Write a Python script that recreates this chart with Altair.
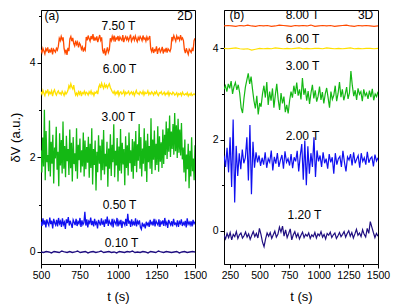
import altair as alt
import numpy as np
import pandas as pd

# ---------------- panel (a) 2D : values in units of 0.01 a.u. ----------------
a_750 = [428,422,431,425,419,430,426,433,421,427,424,432,418,429,426,423,431,427,435,
         452,447,456,449,454,
         430,421,428,417,432,425,
         451,456,446,453,
         441,436,447,439,444,433,442,438,
         429,434,424,431,427,
         455,448,458,451,446,457,450,461,447,453,449,456,444,452,459,448,454,
         427,420,431,416,425,433,422,428,
         452,447,456,449,458,445,453,450,457,446,455,451,448,459,444,452,456,449,454,447,453,
         460,446,451,455,448,457,450,445,454,449,456,452,447,458,450,453,446,455,449,452,457,
         430,424,433,421,428,426,435,419,429,431,423,427,434,420,428,425,432,422,430,427,424,431,
         455,449,458,452,446,457,451,454,448,459,450,453,447,
         428,421,431,424,418,429,426,422,430,425,
         447,452]
a_600 = [339,334,342,336,331,340,337,344,333,338,335,341,330,339,343,336,332,338,341,335,337,333,340,336,331,339,334,337,342,
         352,347,356,349,345,353,340,332,
         336,331,339,334,341,330,337,335,340,333,338,336,332,339,335,341,334,337,331,338,336,340,334,
         349,354,347,357,351,346,355,349,353,347,352,356,348,344,339,
         336,340,333,338,335,342,331,337,339,334,336,341,332,338,335,337,340,333,336,339,334,338,331,337,342,335,
         336,333,339,337,334,340,332,338,335,336,341,333,337,334,339,336,332,338,335,340,334,331,337,336,339,333,
         335,338,332,336,334,339,331,337,335,333,338,336,332,334,337,330,335,333,336,331,338,334,332,335,333,337,
         330,334,332,336,331,333,335,332]
a_300 = [215,168,242,181,301,152,256,190,205,171,278,160,233,187,248,145,221,198,265,174,212,139,251,183,237,166,
         276,176,224,158,246,192,218,163,259,177,231,149,243,186,209,171,262,155,227,194,240,168,215,181,253,160,236,175,222,
         189,244,157,229,178,262,143,218,184,236,130,212,169,247,187,225,152,238,173,258,164,208,181,233,138,219,176,249,
         161,227,190,270,158,214,183,241,149,223,172,260,166,231,185,218,141,245,178,226,162,253,188,215,170,239,155,
         234,182,256,169,228,193,271,176,243,160,219,187,262,171,236,148,250,190,224,176,283,165,238,195,257,173,229,184,
         266,170,245,191,232,178,259,186,
         248,205,276,197,262,212,289,201,255,218,271,206,294,213,268,199,282,210,259,204,273,196,
         221,168,238,149,206,175,229,135,214,160,243,171,198,152,226]
a_050 = [64,55,71,58,67,52,69,61,56,73,59,66,50,70,62,57,68,54,72,60,65,53,71,58,63,49,69,61,74,56,66,59,51,68,63,57,70,
         55,64,60,72,53,67,58,62,85,56,69,52,65,61,73,57,66,54,70,59,63,50,68,62,56,71,58,64,53,69,60,75,55,66,61,57,70,
         52,67,63,58,72,54,65,59,68,51,64,62,57,70,55,81,60,66,53,69,58,63,56,71,54,65,60,67,52,48,62,55,58,50,64,57,61,
         53,68,59,63,56,70,54,66,61,57,69,53,64,60,67,55,72,58,63,51,68,62,57,65,54,70,59,61,56,67,53,64,60,69,55,62,58,
         66,52,71,59,63,57,65,54,68,60,64]
a_010 = [0,-1,1,0,-2,1,0,-1,2,0,-1,1,-1,0,2,-1,0,1,-2,0,1,-1,0,2,-1,0,1,-1,0,-2,1,0,-1,1,0,2,-1,0,-1,1,0,-2,1,0,
         -1,2,0,-1,1,0,-1,0,1,-2,0,1,-1,0,1,0]

a_names = ["7.50 T", "6.00 T", "3.00 T", "0.50 T", "0.10 T"]
a_series = [a_750, a_600, a_300, a_050, a_010]
a_colors = ["#FF4A00", "#FFE000", "#14B814", "#1010F0", "#1F0E80"]
a_label_t = [1003, 1010, 1003, 1010, 1023]
a_label_v = [4.78, 3.87, 2.85, 1.00, 0.20]
a_tags = ["(a)", "2D"]
a_tag_t = [571, 1435]
a_tag_v = [4.99, 4.99]

# ---------------- panel (b) 3D ----------------
b_800 = [449,450,449,448,450,449,451,449,448,450,449,450,448,449,451,450,449,448,450,449,450,449,451,448,449,450,
         449,450,448,449,450,451,449,448,450,449,450,449,448,449]
b_600 = [400,399,400,401,399,398,399,396,398,400,399,400,399,401,400,399,400,399,400,401,399,400,399,400,400,399,
         401,400,399,400,399,400,401,399,400,399,400,400,399,400]
b_300 = [310,318,305,322,312,328,300,316,325,309,320,302,
         270,258,
         290,315,330,345,322,338,310,
         285,268,296,255,280,272,300,
         318,292,326,276,305,285,312,270,298,322,288,265,302,279,294,260,276,257,
         285,305,292,318,300,325,296,310,288,335,
         298,312,285,306,278,302,320,290,308,283,295,316,287,304,279,300,313,292,270,305,288,297,318,284,301,326,
         293,310,286,299,315,289,302,
         350,
         318,295,308,287,312,299,305,284,310,296,302,289,307,293,311,286,300,294,305]
b_200 = [165,140,182,128,205,96,244,62,186,120,170,135,178,148,160,205,110,232,80,195,138,172,150,165,142,
         160,145,172,138,158,150,176,132,162,147,170,140,155,166,136,174,150,158,143,168,137,161,152,175,130,164,
         190,112,198,100,185,125,170,140,205,118,176,
         152,165,140,172,148,158,136,168,150,161,125,170,145,158,163,140,175,150,130,162,155,168,143,172,148,157,
         165,138,170,152,160,145,173,149,158,162,141,167,153,160]
b_120 = [-10,-18,-6,-15,-4,-20,-8,-13,-2,-17,-9,-5,-16,-11,-3,-14,-7,-19,-10,-2,-13,-6,-16,
         5,-8,-25,-35,-18,-5,
         -12,-4,-17,-9,-1,-14,-8,
         8,-3,10,-12,2,-15,-6,4,-20,-9,-2,
         -14,-6,-18,-10,-3,-15,-8,-12,-5,-17,-9,-13,-4,-16,-7,-11,-2,-14,-8,-18,-6,-10,-3,-15,-9,-5,-17,-11,-4,-13,
         -8,-2,-14,-6,0,-12,-4,-16,-7,3,-10,-5,-13,
         2,-8,-14,5,-6,
         20,8,-4,-15,-6,-12]

b_names = ["8.00 T", "6.00 T", "3.00 T", "2.00 T", "1.20 T"]
b_series = [b_800, b_600, b_300, b_200, b_120]
b_colors = ["#FF4A00", "#FFE000", "#14B814", "#1010F0", "#1F0E80"]
b_label_t = [863, 863, 863, 863, 879]
b_label_v = [4.73, 4.20, 3.61, 2.07, 0.35]
b_tags = ["(b)", "3D"]
b_tag_t = [309, 1395]
b_tag_v = [4.73, 4.73]

FONT = "Liberation Sans"


def panel(key, series, names, colors, trange, xdom, ydom, xticks, xminor, yticks, yminor,
          lab_t, lab_v, tags, tag_t, tag_v, ytitle, sw):
    rows = []
    keys = [key + " " + nm for nm in names]
    for k, (nm, vals) in enumerate(zip(keys, series)):
        ts = np.linspace(trange[0], trange[1], len(vals))
        for j, (ti, vi) in enumerate(zip(ts, vals)):
            rows.append({"t": float(ti), "v": vi / 100.0, "s": nm, "o": j})
    df = pd.DataFrame(rows)
    notes = pd.DataFrame({"t": lab_t + tag_t, "v": lab_v + tag_v, "label": names + tags})

    xs = alt.Scale(domain=xdom, nice=False, zero=False)
    ys = alt.Scale(domain=ydom, nice=False, zero=False)

    yax = dict(values=yticks, orient="left", format="d", title=ytitle if ytitle else "",
               labelFlush=False)

    lines = alt.Chart(df).mark_line(strokeWidth=sw, clip=True).encode(
        x=alt.X("t:Q", scale=xs, axis=alt.Axis(values=xticks, title="t (s)", orient="bottom",
                                               format="d", labelOverlap=False, labelFlush=False)),
        y=alt.Y("v:Q", scale=ys, axis=alt.Axis(**yax)),
        color=alt.Color("s:N", scale=alt.Scale(domain=keys, range=colors), legend=None),
        order="o:Q",
    )
    text = alt.Chart(notes).mark_text(font=FONT, fontSize=12, color="black", align="center",
                                      baseline="middle").encode(
        x=alt.X("t:Q", scale=xs, axis=alt.Axis(values=xminor, orient="bottom", labels=False, title=None,
                                               domain=False, tickSize=2.5)),
        y=alt.Y("v:Q", scale=ys, axis=alt.Axis(values=yminor, orient="left", labels=False, title=None,
                                               domain=False, tickSize=2.5)),
        text="label:N",
    )
    return alt.layer(lines, text).resolve_axis(x="independent", y="independent").properties(
        width=154, height=254)


left = panel("a", a_series, a_names, a_colors, (500, 1500), [500, 1500], [-0.254, 5.12],
             [500, 750, 1000, 1250, 1500], [625, 875, 1125, 1375], [0, 2, 4], [1, 3, 5],
             a_label_t, a_label_v, a_tags, a_tag_t, a_tag_v, "δV (a.u.)", 1.3)
right = panel("b", b_series, b_names, b_colors, (200, 1500), [200, 1500], [-0.73, 4.84],
              [250, 500, 750, 1000, 1250, 1500], [375, 625, 875, 1125, 1375], [0, 2, 4], [1, 3],
              b_label_t, b_label_v, b_tags, b_tag_t, b_tag_v, None, 1.2)

chart = alt.hconcat(left, right, spacing=29, bounds="flush").resolve_scale(color="independent").properties(
    padding={"left": 0, "top": 0, "right": 0, "bottom": 0}
).configure_view(stroke="black", strokeWidth=1).configure_axis(
    grid=False, domainColor="black", tickColor="black", labelColor="black", titleColor="black",
    labelFont=FONT, titleFont=FONT, labelFontSize=10.5, titleFontSize=13, titleFontWeight="normal",
    tickSize=4, labelPadding=2, domainWidth=1, tickWidth=1,
).configure_axisLeft(titlePadding=7).configure_axisBottom(titlePadding=10)

chart.save("out.html", embed_options={"renderer": "svg", "actions": False})
